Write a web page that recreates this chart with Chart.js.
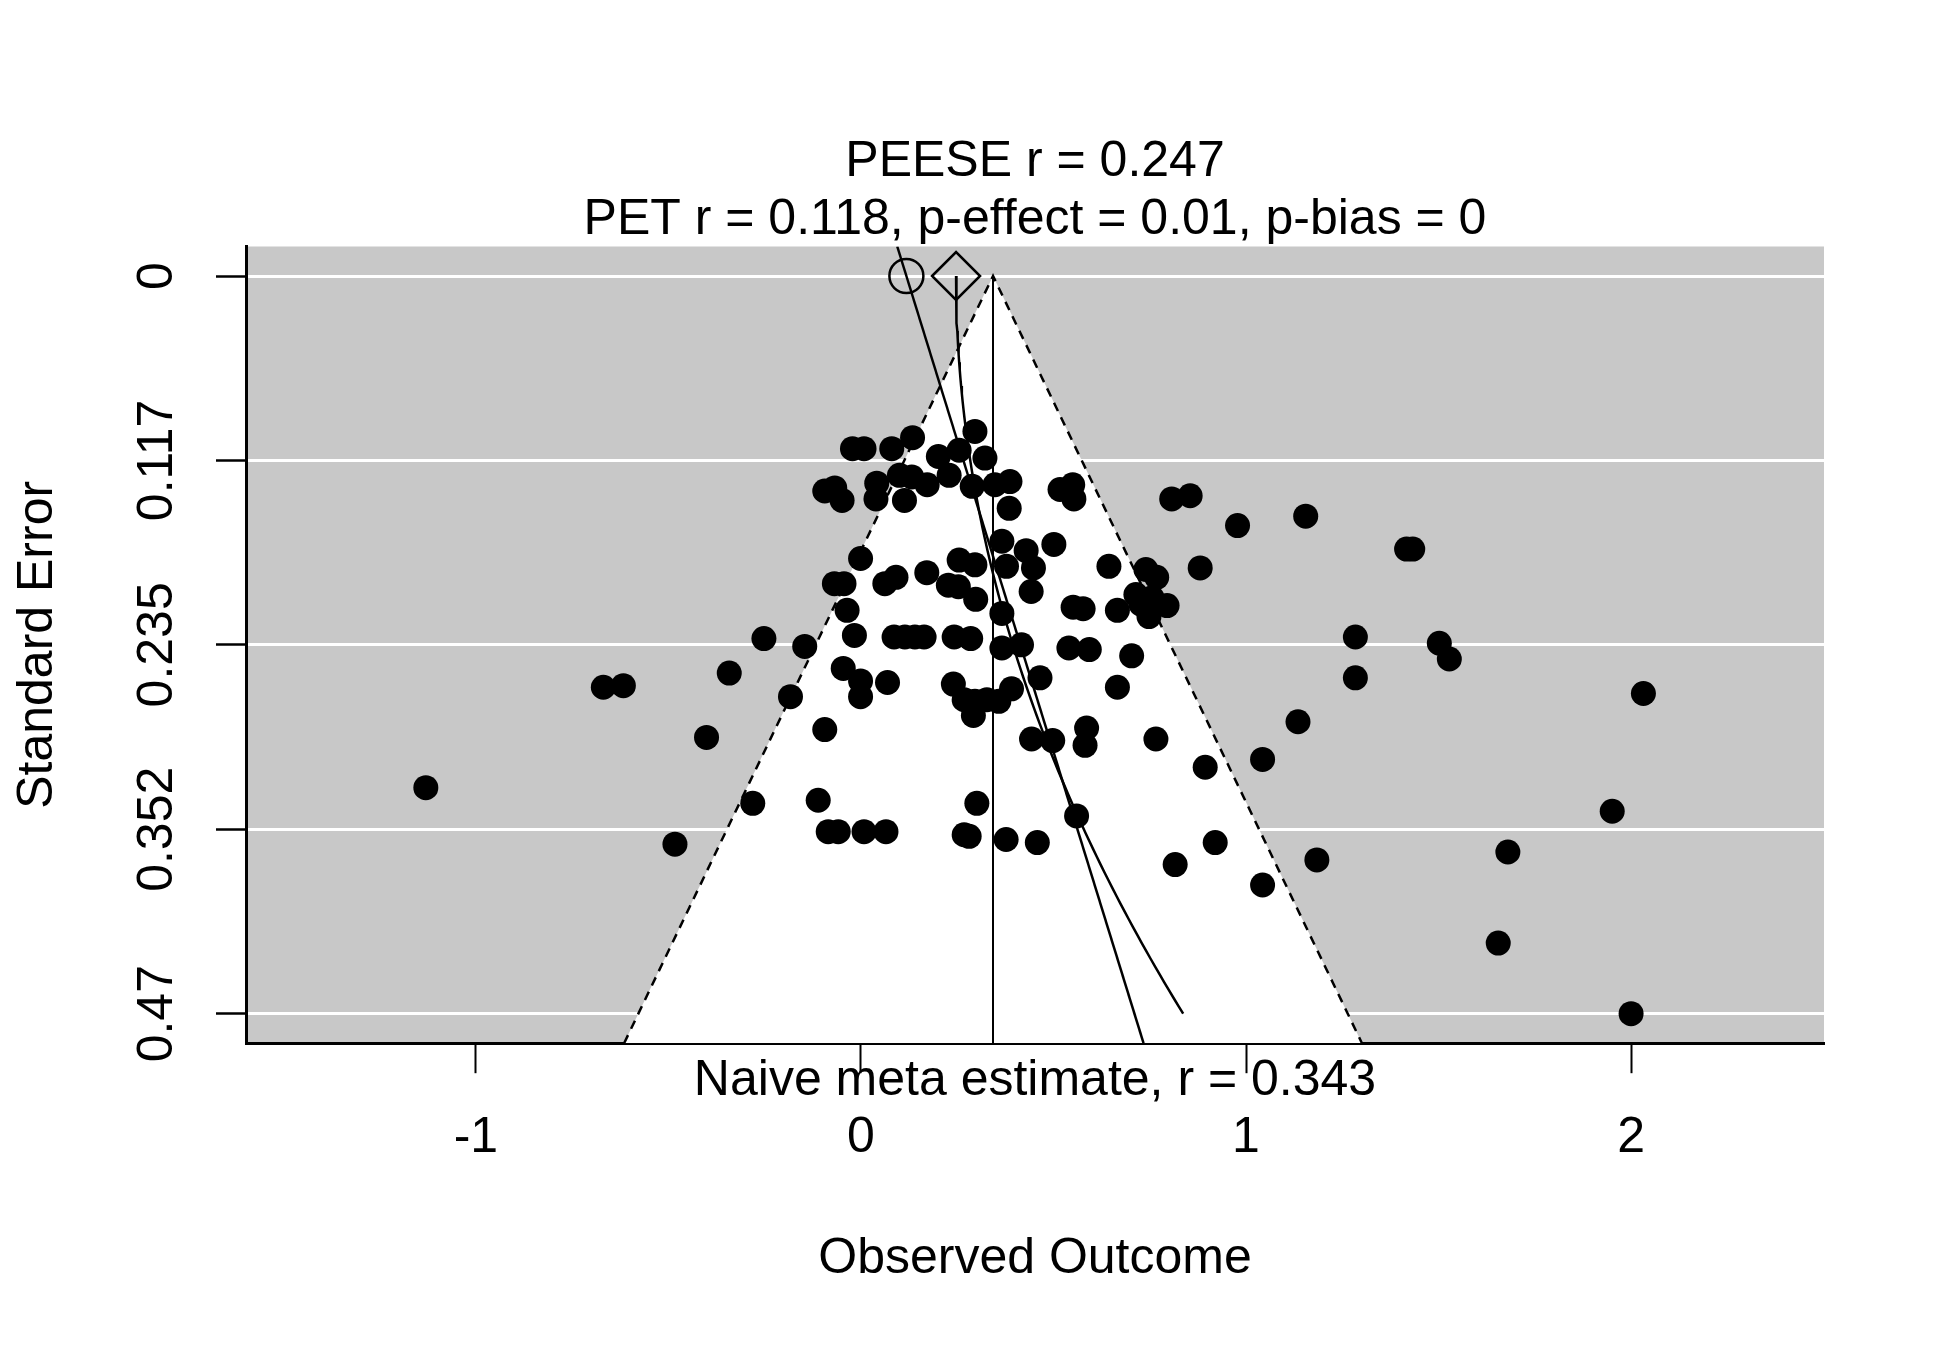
<!DOCTYPE html>
<html>
<head>
<meta charset="utf-8">
<title>Funnel plot</title>
<script src="https://cdn.jsdelivr.net/npm/chart.js@4/dist/chart.umd.min.js"></script>
<style>
  html, body { margin: 0; padding: 0; background: #ffffff; }
  #wrap { width: 1950px; height: 1350px; position: relative; }
</style>
</head>
<body>
<div id="wrap"><canvas id="c"></canvas></div>
<script>
// ---------------- data ----------------
const observedOutcome = [
  -0.022, 0.008, 0.080, 0.134, 0.296, 0.201, 0.255, 0.322, -0.094, -0.068,
  -0.049, 0.041, 0.039, 0.100, 0.132, 0.113, 0.172, 0.229, 0.289, 0.348,
  0.387, 0.385, -0.001, -0.069, -0.044, 0.062, 0.091, 0.171, 0.255, 0.296,
  0.227, 0.253, 0.298, -0.036, -0.252, -0.146, -0.017, 0.086, 0.114, 0.140,
  0.164, 0.242, 0.285, 0.366, 0.366, -0.046, -0.001, -0.001, 0.069, 0.240,
  0.268, 0.296, 0.327, 0.358, 0.292, 0.391, -0.183, -0.094, -0.281, -0.111,
  -0.085, -0.059, 0.008, 0.065, 0.301, 0.268, 0.281, 0.517, 0.550, 0.553,
  0.807, 0.855, 0.978, 0.881, 0.366, 0.429, 0.448, 0.378, 0.501, 0.442,
  0.644, 0.740, 0.768, 0.714, 0.756, 0.795, 0.748, 0.727, 0.666, 0.551,
  0.577, 0.417, 0.540, 0.593, 0.703, 0.465, 0.666, 0.586, 0.582, 0.443,
  0.498, 0.766, 0.894, 0.560, 0.377, 0.458, 0.920, 0.816, 1.155, 1.417,
  1.433, 1.284, 1.502, 1.528, 1.284, 2.032, 1.135, 1.043, 1.951, 1.184,
  1.043, 1.680, 1.655, 2.000, -0.669, -0.617, -0.342, -0.401, -1.130, -0.483
];
const standardError = [
  0.110, 0.110, 0.110, 0.103, 0.099, 0.115, 0.111, 0.116, 0.137, 0.135,
  0.143, 0.132, 0.142, 0.127, 0.128, 0.143, 0.133, 0.127, 0.134, 0.133,
  0.131, 0.148, 0.180, 0.196, 0.196, 0.196, 0.192, 0.189, 0.181, 0.184,
  0.197, 0.198, 0.206, 0.213, 0.231, 0.236, 0.229, 0.230, 0.230, 0.230,
  0.230, 0.230, 0.231, 0.215, 0.237, 0.250, 0.258, 0.268, 0.259, 0.260,
  0.270, 0.271, 0.270, 0.271, 0.280, 0.263, 0.268, 0.289, 0.336, 0.334,
  0.354, 0.354, 0.354, 0.354, 0.336, 0.356, 0.357, 0.136, 0.133, 0.142,
  0.142, 0.140, 0.159, 0.186, 0.169, 0.175, 0.186, 0.185, 0.171, 0.201,
  0.185, 0.187, 0.192, 0.203, 0.205, 0.210, 0.217, 0.209, 0.213, 0.211,
  0.212, 0.235, 0.237, 0.238, 0.242, 0.256, 0.262, 0.288, 0.299, 0.295,
  0.296, 0.295, 0.313, 0.344, 0.359, 0.361, 0.361, 0.375, 0.153, 0.174,
  0.174, 0.230, 0.234, 0.244, 0.256, 0.266, 0.284, 0.308, 0.341, 0.372,
  0.388, 0.367, 0.425, 0.470, 0.262, 0.261, 0.253, 0.294, 0.326, 0.362
];

const naiveEstimate = 0.343;
const petEstimate = 0.118;
const petSlope = 1.26;
const peeseEstimate = 0.247;
const peeseCoef = 2.67;
const funnelZ = 1.96;
const maxSE = 0.47;

const xTickValues = [-1, 0, 1, 2];
const yTickValues = [0, 0.1175, 0.235, 0.3525, 0.47];
const yTickLabels = ['0', '0.117', '0.235', '0.352', '0.47'];
const xMin = -1.597, xMax = 2.501;
const yMin = -0.0188, yMax = 0.4888;

const titleLines = ['PEESE r = 0.247', 'PET r = 0.118, p-effect = 0.01, p-bias = 0'];
const naiveLabel = 'Naive meta estimate, r = ' + naiveEstimate;
const xTitle = 'Observed Outcome';
const yTitle = 'Standard Error';

// ---------------- derived series ----------------
const studyPoints = observedOutcome.map((v, i) => ({ x: v, y: standardError[i] }));
const funnelPts = [
  { x: naiveEstimate - funnelZ * yMax, y: yMax },
  { x: naiveEstimate, y: 0 },
  { x: naiveEstimate + funnelZ * yMax, y: yMax }
];
const naiveLine = [{ x: naiveEstimate, y: 0 }, { x: naiveEstimate, y: yMax }];
const petLine = [
  { x: petEstimate + petSlope * yMin, y: yMin },
  { x: petEstimate + petSlope * yMax, y: yMax }
];
const peeseCurve = [];
for (let k = 0; k <= 94; k++) {
  const se = maxSE * k / 94;
  peeseCurve.push({ x: peeseEstimate + peeseCoef * se * se, y: se });
}

const FONT = "'Liberation Sans', Arial, Helvetica, sans-serif";
const GRAY = '#C8C8C8';

const bgPlugin = {
  id: 'panelBg',
  beforeDraw(chart) {
    const a = chart.chartArea, ctx = chart.ctx;
    ctx.save();
    ctx.fillStyle = GRAY;
    ctx.fillRect(a.left, a.top, a.right - a.left, a.bottom - a.top);
    ctx.restore();
  }
};
const naiveTextPlugin = {
  id: 'naiveText',
  afterDraw(chart) {
    const a = chart.chartArea, ctx = chart.ctx;
    ctx.save();
    ctx.fillStyle = '#000';
    ctx.font = '50px ' + FONT;
    ctx.textAlign = 'center';
    ctx.textBaseline = 'alphabetic';
    ctx.fillText(naiveLabel, (a.left + a.right) / 2, a.bottom + 51.5);
    ctx.restore();
  }
};

const lineDs = (data, extra) => Object.assign({
  type: 'scatter', data, showLine: true, pointRadius: 0, borderColor: '#000',
  borderWidth: 2.5, backgroundColor: 'rgba(0,0,0,0)', fill: false, tension: 0
}, extra || {});

new Chart(document.getElementById('c'), {
  type: 'scatter',
  data: {
    datasets: [
      { type: 'scatter', data: studyPoints, pointRadius: 12.5, pointHoverRadius: 12.5,
        backgroundColor: '#000', borderWidth: 0, order: 0 },
      { type: 'scatter', data: [{ x: petEstimate, y: 0 }], pointStyle: 'circle', pointRadius: 17,
        borderColor: '#000', borderWidth: 2.5, backgroundColor: 'rgba(0,0,0,0)', order: 1 },
      { type: 'scatter', data: [{ x: peeseEstimate, y: 0 }], pointStyle: 'rectRot', pointRadius: 24,
        borderColor: '#000', borderWidth: 2.5, backgroundColor: 'rgba(0,0,0,0)', order: 1 },
      lineDs(petLine, { order: 2 }),
      lineDs(peeseCurve, { order: 2 }),
      lineDs(naiveLine, { order: 3, borderWidth: 2 }),
      lineDs(funnelPts, { order: 4, borderDash: [9, 7], fill: { value: yMax }, backgroundColor: '#ffffff' })
    ]
  },
  options: {
    responsive: true,
    maintainAspectRatio: false,
    animation: false,
    devicePixelRatio: 1,
    events: [],
    layout: { padding: { left: 0, top: 0, right: 126, bottom: 0 } },
    plugins: {
      legend: { display: false },
      tooltip: { enabled: false },
      title: {
        display: true, text: titleLines, color: '#000', fullSize: false,
        font: { family: FONT, size: 50, weight: 'normal', lineHeight: 1.16 },
        padding: { top: 133.7, bottom: -3.2 }
      }
    },
    scales: {
      x: {
        type: 'linear', position: 'bottom', min: xMin, max: xMax, z: 1,
        afterBuildTicks: (s) => { s.ticks = xTickValues.map(v => ({ value: v })); },
        afterFit: (s) => { s.height = 306.8; },
        ticks: { color: '#000', font: { family: FONT, size: 50, lineHeight: 1.2 }, padding: 35,
          maxRotation: 0, minRotation: 0, callback: (v) => String(v) },
        grid: { display: true, drawOnChartArea: false, drawTicks: true, tickLength: 30,
          tickColor: '#000', tickWidth: 2 },
        border: { display: true, color: '#000', width: 3 },
        title: { display: true, text: xTitle, color: '#000',
          font: { family: FONT, size: 50, lineHeight: 1.2 }, padding: { top: 0, bottom: 61 } }
      },
      y: {
        type: 'linear', position: 'left', min: yMin, max: yMax, reverse: true,
        afterBuildTicks: (s) => { s.ticks = yTickValues.map(v => ({ value: v })); },
        afterFit: (s) => { s.width = 246; },
        ticks: { color: '#000', font: { family: FONT, size: 50, lineHeight: 1.2 }, padding: -5,
          minRotation: 90, maxRotation: 90, crossAlign: 'center',
          callback: (v, i) => yTickLabels[i] },
        grid: { display: true, drawOnChartArea: true, color: '#ffffff', lineWidth: 3,
          drawTicks: true, tickLength: 30, tickColor: '#000', tickWidth: 2.5 },
        border: { display: true, color: '#000', width: 3 },
        title: { display: true, text: yTitle, color: '#000',
          font: { family: FONT, size: 50, lineHeight: 1.2 }, padding: { top: 8, bottom: 0 } }
      }
    }
  },
  plugins: [bgPlugin, naiveTextPlugin]
});
</script>
</body>
</html>
